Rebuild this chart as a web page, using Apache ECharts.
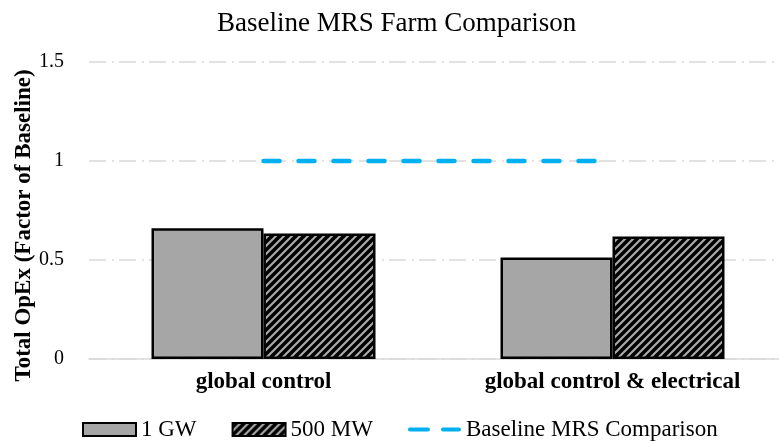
<!DOCTYPE html>
<html><head><meta charset="utf-8">
<script src="https://cdn.jsdelivr.net/npm/echarts@6/dist/echarts.min.js"></script>
<style>html,body{margin:0;padding:0;background:#fff}#c{width:779px;height:441px}</style>
</head><body><div id="c"></div><script>
const categories = ['global control', 'global control & electrical'];
const gw1 = [0.66, 0.513];
const mw500 = [0.634, 0.619];
const baseline = [1, 1];
const yTicks = [0, 0.5, 1, 1.5];
const seriesNames = ['1 GW', '500 MW', 'Baseline MRS Comparison'];
const titleText = 'Baseline MRS Farm Comparison';
const yAxisName = 'Total OpEx (Factor of Baseline)';

function hatch() {
  const s = 8; const c = document.createElement('canvas'); c.width = s; c.height = s;
  const g = c.getContext('2d');
  g.fillStyle = '#000'; g.fillRect(0, 0, s, s);
  g.strokeStyle = '#a8a8a8'; g.lineWidth = 2.2;
  g.beginPath();
  g.moveTo(-2, s + 2); g.lineTo(s + 2, -2);
  g.moveTo(-2, 2); g.lineTo(2, -2);
  g.moveTo(s - 2, s + 2); g.lineTo(s + 2, s - 2);
  g.stroke();
  return c;
}
const serif = '"Liberation Serif", "Times New Roman", serif';
const chart = echarts.init(document.getElementById('c'), null, {renderer: 'canvas'});
chart.setOption({
  animation: false,
  backgroundColor: '#fff',
  title: {text: titleText, left: 212, top: 5,
    textStyle: {fontFamily: serif, fontSize: 27, fontWeight: 'normal', color: '#000'}},
  grid: {left: 89, right: -8, top: 62, bottom: 82, containLabel: false, outerBoundsMode: 'none'},
  legend: {left: 77, top: 413, itemWidth: 53, itemHeight: 13, itemGap: 35,
    textStyle: {fontFamily: serif, fontSize: 23, color: '#000'},
    data: [{name: seriesNames[0], icon: 'rect'}, {name: seriesNames[1], icon: 'rect'},
      {name: seriesNames[2], icon: 'path://M2,0h18a2,2 0 0 1 0,4h-18a2,2 0 0 1 0,-4z M35,0h16a2,2 0 0 1 0,4h-16a2,2 0 0 1 0,-4z M0,2z M53,2z'}]},
  xAxis: {type: 'category', data: categories,
    axisLine: {lineStyle: {color: '#d9d9d9', width: 1.5}},
    axisTick: {show: false},
    axisLabel: {fontFamily: serif, fontSize: 23, fontWeight: 'bold', color: '#000', margin: 12}},
  yAxis: {type: 'value', min: yTicks[0], max: yTicks[yTicks.length - 1], interval: 0.5,
    name: yAxisName, nameLocation: 'middle', nameGap: 53, nameMoveOverlap: false,
    nameTextStyle: {fontFamily: serif, fontSize: 23, fontWeight: 'bold', color: '#000', padding: [0, 30, 0, 0]},
    axisLine: {show: false}, axisTick: {show: false},
    axisLabel: {fontFamily: serif, fontSize: 20, color: '#000', margin: 25},
    splitLine: {lineStyle: {color: '#d9d9d9', width: 1.5, type: [17, 6, 2, 5]}}},
  series: [
    {name: seriesNames[0], type: 'bar', data: gw1, barWidth: 112, barGap: '0%',
      itemStyle: {color: '#a6a6a6', borderColor: '#000', borderWidth: 2.5}},
    {name: seriesNames[1], type: 'bar', data: mw500, barWidth: 112, barGap: '0%',
      itemStyle: {color: {image: hatch(), repeat: 'repeat'}, borderColor: '#000', borderWidth: 2.5}},
    {name: seriesNames[2], type: 'line', data: baseline, symbol: 'none', z: 5,
      lineStyle: {color: '#00b0f0', width: 4.5, type: [16, 19], cap: 'round'},
      itemStyle: {color: '#00b0f0'}}
  ]
});
</script></body></html>
